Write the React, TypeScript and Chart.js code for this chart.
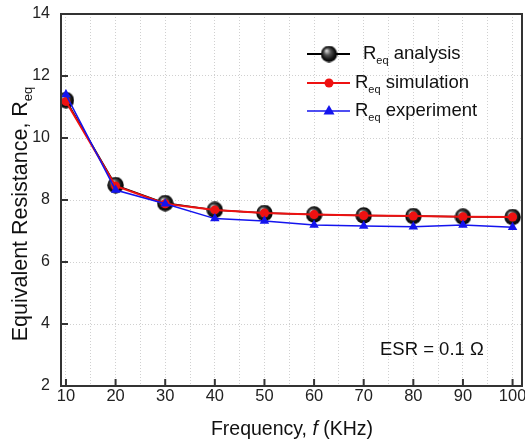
import React, { useEffect, useRef } from "react";
import { Chart, registerables } from "chart.js";

Chart.register(...registerables);

const frequencies = [10, 20, 30, 40, 50, 60, 70, 80, 90, 100];
const analysisValues = [11.22, 8.48, 7.9, 7.68, 7.58, 7.53, 7.5, 7.48, 7.46, 7.45];
const simulationValues = [11.18, 8.45, 7.88, 7.68, 7.58, 7.53, 7.5, 7.48, 7.46, 7.45];
const experimentValues = [11.4, 8.32, 7.88, 7.4, 7.32, 7.19, 7.16, 7.14, 7.19, 7.12];
const xTickValues = [10, 15, 20, 25, 30, 35, 40, 45, 50, 55, 60, 65, 70, 75, 80, 85, 90, 95, 100];
const xTickLabels = ["10", "20", "30", "40", "50", "60", "70", "80", "90", "100"];
const yTickValues = [2, 4, 6, 8, 10, 12, 14];

const FONT = "'Liberation Sans', Arial, sans-serif";
const RED = "#ee1111";
const BLUE = "#1414ee";

function makeSphere(size: number): HTMLCanvasElement {
  const c = document.createElement("canvas");
  c.width = size;
  c.height = size;
  const ctx = c.getContext("2d")!;
  const r = size / 2;
  const g = ctx.createRadialGradient(r * 0.7, r * 0.6, 0.5, r, r, r);
  g.addColorStop(0, "#d8d8d8");
  g.addColorStop(0.35, "#555555");
  g.addColorStop(0.75, "#111111");
  g.addColorStop(1, "#000000");
  ctx.fillStyle = g;
  ctx.beginPath();
  ctx.arc(r, r, r - 0.3, 0, Math.PI * 2);
  ctx.fill();
  return c;
}

function drawSubText(ctx: CanvasRenderingContext2D, x: number, y: number, parts: [string, boolean][], size: number, italicIdx: number = -1) {
  let cx = x;
  parts.forEach(([t, sub], i) => {
    const fs = sub ? Math.round(size * 0.62) : size;
    ctx.font = `${i === italicIdx ? "italic " : ""}${fs}px ${FONT}`;
    ctx.fillText(t, cx, sub ? y + size * 0.35 : y);
    cx += ctx.measureText(t).width;
  });
  return cx - x;
}

function measureParts(ctx: CanvasRenderingContext2D, parts: [string, boolean][], size: number, italicIdx: number = -1) {
  let w = 0;
  parts.forEach(([t, sub], i) => {
    const fs = sub ? Math.round(size * 0.62) : size;
    ctx.font = `${i === italicIdx ? "italic " : ""}${fs}px ${FONT}`;
    w += ctx.measureText(t).width;
  });
  return w;
}

export default function App() {
  const ref = useRef<HTMLCanvasElement>(null);

  useEffect(() => {
    const sphere = makeSphere(17);
    const sphereLegend = makeSphere(17);

    const decor = {
      id: "decor",
      afterDatasetsDraw(chart: any) {
        const ctx = chart.ctx as CanvasRenderingContext2D;
        const a = chart.chartArea;
        const xs = chart.scales.x;
        const ys = chart.scales.y;
        ctx.save();
        // frame
        ctx.strokeStyle = "#333333";
        ctx.lineWidth = 2;
        ctx.strokeRect(a.left, a.top, a.right - a.left, a.bottom - a.top);
        // inward ticks
        ctx.lineWidth = 2;
        ctx.beginPath();
        frequencies.forEach((v) => {
          const px = xs.getPixelForValue(v);
          ctx.moveTo(px, a.bottom);
          ctx.lineTo(px, a.bottom - 7);
        });
        yTickValues.forEach((v) => {
          const py = ys.getPixelForValue(v);
          ctx.moveTo(a.left, py);
          ctx.lineTo(a.left + 7, py);
        });
        ctx.stroke();

        // x tick labels
        ctx.fillStyle = "#222222";
        ctx.font = `16.5px ${FONT}`;
        ctx.textAlign = "center";
        ctx.textBaseline = "middle";
        frequencies.forEach((v, i) => {
          ctx.fillText(xTickLabels[i], xs.getPixelForValue(v), a.bottom + 10);
        });

        // legend
        ctx.textBaseline = "middle";
        ctx.fillStyle = "#111111";
        const rows: { y: number; color: string; kind: string; label: string; tx: number }[] = [
          { y: 54, color: "#000000", kind: "sphere", label: " analysis", tx: 363 },
          { y: 83, color: RED, kind: "dot", label: " simulation", tx: 355 },
          { y: 111, color: BLUE, kind: "tri", label: " experiment", tx: 355 },
        ];
        rows.forEach((r) => {
          ctx.strokeStyle = r.color;
          ctx.lineWidth = r.kind === "tri" ? 1.5 : 2;
          ctx.beginPath();
          ctx.moveTo(307, r.y);
          ctx.lineTo(350, r.y);
          ctx.stroke();
          const mx = 329;
          if (r.kind === "sphere") {
            ctx.drawImage(sphereLegend, mx - 8.5, r.y - 8.5);
          } else if (r.kind === "dot") {
            ctx.fillStyle = r.color;
            ctx.beginPath();
            ctx.arc(mx, r.y, 4.5, 0, Math.PI * 2);
            ctx.fill();
          } else {
            ctx.fillStyle = r.color;
            ctx.beginPath();
            ctx.moveTo(mx, r.y - 6);
            ctx.lineTo(mx + 5.5, r.y + 3.5);
            ctx.lineTo(mx - 5.5, r.y + 3.5);
            ctx.closePath();
            ctx.fill();
          }
          ctx.fillStyle = "#111111";
          ctx.textAlign = "left";
          drawSubText(ctx, r.tx, r.y, [["R", false], ["eq", true], [r.label, false]], 18.5);
        });

        // ESR annotation
        ctx.font = `18.5px ${FONT}`;
        ctx.textAlign = "left";
        ctx.fillText("ESR = 0.1 \u03A9", 380, 350);

        // x title
        const xParts: [string, boolean][] = [["Frequency, ", false], ["f", false], [" (KHz)", false]];
        const xw = measureParts(ctx, xParts, 19.5, 1);
        drawSubText(ctx, 292 - xw / 2, 430, xParts, 19.5, 1);

        // y title
        ctx.translate(21, 214);
        ctx.rotate(-Math.PI / 2);
        const yParts: [string, boolean][] = [["Equivalent Resistance, R", false], ["eq", true]];
        const yw = measureParts(ctx, yParts, 21.5);
        drawSubText(ctx, -yw / 2, 0, yParts, 21.5);
        ctx.restore();
      },
    };

    const chart = new Chart(ref.current!, {
      type: "line",
      data: {
        datasets: [
          {
            label: "analysis",
            data: frequencies.map((f, i) => ({ x: f, y: analysisValues[i] })),
            borderColor: "#000000",
            borderWidth: 1.5,
            pointStyle: sphere as any,
            pointRadius: 8.5,
            order: 3,
          },
          {
            label: "simulation",
            data: frequencies.map((f, i) => ({ x: f, y: simulationValues[i] })),
            borderColor: RED,
            backgroundColor: RED,
            borderWidth: 2,
            pointStyle: "circle",
            pointRadius: 4.5,
            pointBorderWidth: 0,
            order: 2,
          },
          {
            label: "experiment",
            data: frequencies.map((f, i) => ({ x: f, y: experimentValues[i] })),
            borderColor: BLUE,
            backgroundColor: BLUE,
            borderWidth: 1.5,
            pointStyle: "triangle",
            pointRadius: 5.5,
            pointBorderWidth: 0,
            order: 1,
          },
        ],
      },
      options: {
        responsive: false,
        animation: false,
        events: [],
        layout: { autoPadding: false, padding: { top: 14, right: 3, left: 0, bottom: 0 } },
        plugins: { legend: { display: false }, tooltip: { enabled: false }, title: { display: false } },
        scales: {
          x: {
            type: "linear",
            min: 9,
            max: 101.9,
            afterBuildTicks: (s: any) => {
              s.ticks = xTickValues.map((v) => ({ value: v }));
            },
            afterFit: (s: any) => {
              s.height = 59;
              s.paddingLeft = 0;
              s.paddingRight = 0;
            },
            grid: {
              drawTicks: false,
              color: "#d0d0d0",
              lineWidth: 1,
            } as any,
            border: { display: false, dash: [1, 2] },
            ticks: { display: false },
          },
          y: {
            type: "linear",
            min: 2,
            max: 14,
            afterBuildTicks: (s: any) => {
              s.ticks = yTickValues.map((v) => ({ value: v }));
            },
            afterFit: (s: any) => {
              s.width = 61;
              s.paddingTop = 0;
              s.paddingBottom = 0;
            },
            grid: { drawTicks: false, color: "#d0d0d0", lineWidth: 1 },
            border: { display: false, dash: [1, 2] },
            ticks: {
              padding: 11,
              color: "#222222",
              font: { family: FONT, size: 16 },
            },
          },
        },
      },
      plugins: [decor],
    } as any);

    return () => chart.destroy();
  }, []);

  return (
    <div style={{ position: "fixed", left: 0, top: 0, width: 525, height: 445, background: "#fff" }}>
      <canvas ref={ref} width={525} height={445} style={{ display: "block" }} />
    </div>
  );
}
